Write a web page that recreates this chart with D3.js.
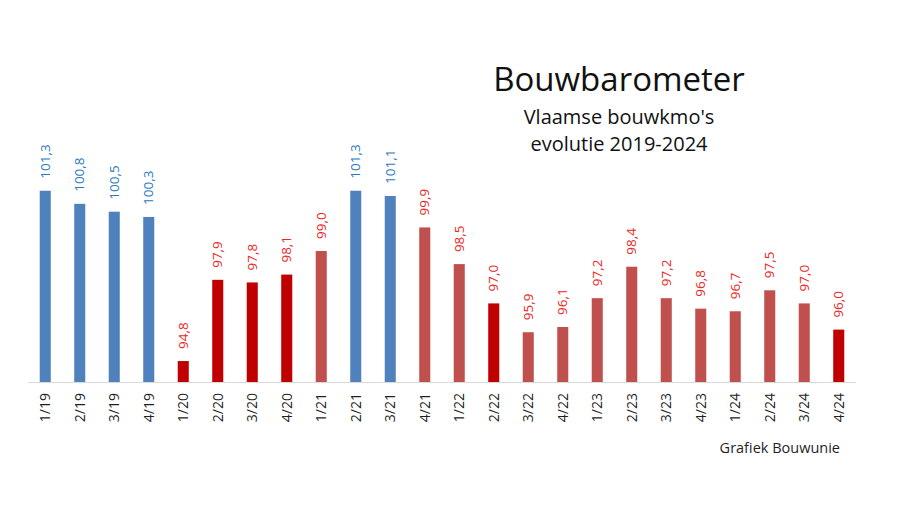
<!DOCTYPE html>
<html>
<head>
<meta charset="utf-8">
<script src="https://cdn.jsdelivr.net/npm/d3@7"></script>
<style>
  body { margin: 0; background: #fff; }
  svg { display: block; font-family: "Open Sans", sans-serif; }
</style>
</head>
<body>
<div id="chart"></div>
<script>
// Data
var quarters = ["1/19", "2/19", "3/19", "4/19", "1/20", "2/20", "3/20", "4/20", "1/21", "2/21", "3/21", "4/21",
                "1/22", "2/22", "3/22", "4/22", "1/23", "2/23", "3/23", "4/23", "1/24", "2/24", "3/24", "4/24"];
var values = [101.3, 100.8, 100.5, 100.3, 94.8, 97.9, 97.8, 98.1, 99.0, 101.3, 101.1, 99.9,
              98.5, 97.0, 95.9, 96.1, 97.2, 98.4, 97.2, 96.8, 96.7, 97.5, 97.0, 96.0];
// bar group: "boven" (above 100), "markant" (highlighted), "onder" (below 100)
var groups = ["boven", "boven", "boven", "boven", "markant", "markant", "markant", "markant", "onder", "boven", "boven", "onder",
              "onder", "markant", "onder", "onder", "onder", "onder", "onder", "onder", "onder", "onder", "onder", "markant"];
var yDomain = [94, 102];

var W = 900, H = 507;
var margin = { top: 0, right: 44, bottom: 125, left: 28 };

var svg = d3.select("#chart")
    .append("svg")
    .attr("width", W)
    .attr("height", H);

var data = quarters.map(function(q, i) {
    return { q: q, v: values[i], g: groups[i] };
});

var x = d3.scaleBand()
    .domain(quarters)
    .range([margin.left, W - margin.right])
    .paddingInner(0.68)
    .paddingOuter(0.34);

var y = d3.scaleLinear()
    .domain(yDomain)
    .range([382, 382 - 8 * 26.2]);

var barColor = d3.scaleOrdinal()
    .domain(["boven", "markant", "onder"])
    .range(["#4f81bd", "#c00000", "#c0504d"]);

var labelColor = function(g) { return g === "boven" ? "#2b78bd" : "#ec2626"; };

// bars
svg.append("g")
    .selectAll("rect")
    .data(data)
    .enter()
    .append("rect")
    .attr("x", function(d) { return x(d.q); })
    .attr("y", function(d) { return y(d.v); })
    .attr("width", x.bandwidth())
    .attr("height", function(d) { return y(yDomain[0]) - y(d.v); })
    .style("fill", function(d) { return barColor(d.g); });

// x axis
var xAxis = svg.append("g")
    .attr("transform", "translate(0," + y(yDomain[0]) + ")")
    .call(d3.axisBottom(x).tickSize(0).tickPadding(0));

xAxis.select(".domain")
    .attr("d", "M" + margin.left + ",0.5H" + (W - margin.right))
    .style("stroke", "#d9d9d9");

xAxis.selectAll("text")
    .attr("transform", "rotate(-90)")
    .attr("x", -11)
    .attr("y", 0)
    .attr("dy", "0.35em")
    .style("text-anchor", "end")
    .style("font-size", "14px")
    .style("font-family", "Open Sans, sans-serif")
    .style("fill", "#1f1f1f");

// value labels
svg.append("g")
    .selectAll("text")
    .data(data)
    .enter()
    .append("text")
    .attr("transform", function(d) {
        return "translate(" + (x(d.q) + x.bandwidth() / 2) + "," + (y(d.v) - 12) + ") rotate(-90)";
    })
    .attr("dy", "0.35em")
    .style("font-size", "13.5px")
    .style("font-weight", 500)
    .style("fill", function(d) { return labelColor(d.g); })
    .text(function(d) { return d3.format(".1f")(d.v).replace(".", ","); });

// titles
svg.append("text")
    .attr("x", 619)
    .attr("y", 91)
    .attr("text-anchor", "middle")
    .style("font-size", "33px")
    .style("fill", "#111")
    .text("Bouwbarometer");

svg.append("text")
    .attr("x", 619)
    .attr("y", 124)
    .attr("text-anchor", "middle")
    .style("font-size", "20px")
    .style("fill", "#111")
    .text("Vlaamse bouwkmo's");

svg.append("text")
    .attr("x", 619)
    .attr("y", 151)
    .attr("text-anchor", "middle")
    .style("font-size", "20px")
    .style("fill", "#111")
    .text("evolutie 2019-2024");

svg.append("text")
    .attr("x", 840)
    .attr("y", 453)
    .attr("text-anchor", "end")
    .style("font-size", "14.5px")
    .style("fill", "#1f1f1f")
    .text("Grafiek Bouwunie");
</script>
</body>
</html>
